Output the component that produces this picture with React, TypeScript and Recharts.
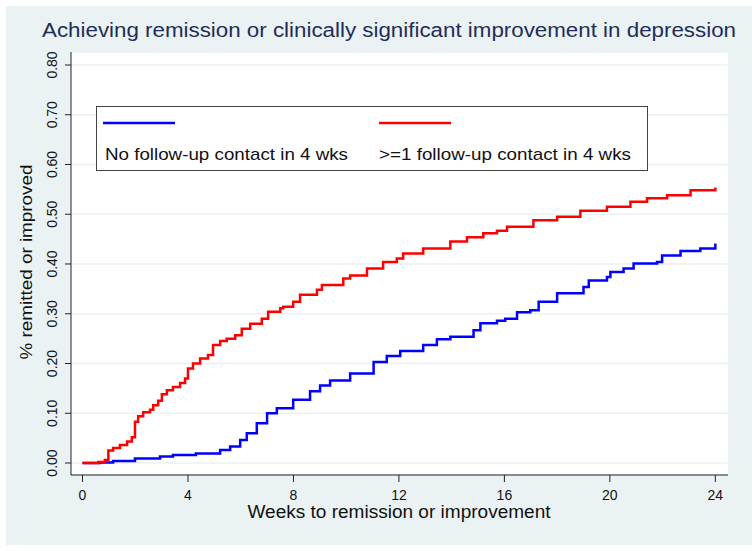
import { LineChart, Line, XAxis, YAxis, CartesianGrid } from "recharts";

// weeks / proportion for "No follow-up contact in 4 wks"
const noContactWeeks = [0, 0.66, 1.16, 1.99, 2.94, 3.43, 4.3, 5.22, 5.6, 5.98, 6.23, 6.61, 7.0, 7.37, 7.99, 8.63, 9.01, 9.39, 10.15, 11.04, 11.54, 12.05, 12.92, 13.44, 13.95, 14.83, 15.09, 15.72, 16.03, 16.48, 16.98, 17.3, 18.0, 19.0, 19.2, 19.89, 20.02, 20.52, 20.9, 21.79, 21.98, 22.68, 23.43, 24.0];
const noContactRate = [0, 0.001, 0.004, 0.009, 0.013, 0.016, 0.019, 0.026, 0.033, 0.046, 0.06, 0.08, 0.1, 0.11, 0.127, 0.144, 0.156, 0.166, 0.18, 0.203, 0.215, 0.225, 0.237, 0.249, 0.254, 0.267, 0.281, 0.286, 0.29, 0.303, 0.307, 0.324, 0.341, 0.354, 0.367, 0.374, 0.384, 0.391, 0.401, 0.404, 0.417, 0.426, 0.431, 0.441];

// weeks / proportion for ">=1 follow-up contact in 4 wks"
const contactWeeks = [0, 0.6, 0.85, 0.98, 1.16, 1.42, 1.69, 1.87, 1.99, 2.11, 2.3, 2.56, 2.68, 2.87, 3.01, 3.2, 3.43, 3.7, 3.89, 4.0, 4.19, 4.46, 4.76, 4.95, 5.22, 5.47, 5.79, 6.04, 6.36, 6.8, 7.04, 7.5, 7.61, 7.99, 8.25, 8.89, 9.08, 9.89, 10.15, 10.79, 11.4, 11.92, 12.16, 12.92, 13.95, 14.58, 15.2, 15.72, 16.1, 17.1, 18.0, 18.88, 19.89, 20.78, 21.41, 22.17, 23.06, 24.0];
const contactRate = [0, 0.002, 0.006, 0.025, 0.03, 0.036, 0.043, 0.052, 0.083, 0.094, 0.102, 0.107, 0.116, 0.125, 0.138, 0.146, 0.153, 0.161, 0.17, 0.19, 0.2, 0.21, 0.217, 0.237, 0.245, 0.25, 0.257, 0.27, 0.28, 0.29, 0.304, 0.311, 0.314, 0.324, 0.338, 0.348, 0.358, 0.371, 0.377, 0.391, 0.404, 0.411, 0.421, 0.431, 0.445, 0.454, 0.462, 0.467, 0.475, 0.488, 0.495, 0.507, 0.515, 0.525, 0.532, 0.538, 0.548, 0.554];

const xTicks = [0, 4, 8, 12, 16, 20, 24];
const yTicks = [0, 0.1, 0.2, 0.3, 0.4, 0.5, 0.6, 0.7, 0.8];

const noContact = noContactWeeks.map((w, i) => ({ week: w, rate: noContactRate[i] }));
const contact = contactWeeks.map((w, i) => ({ week: w, rate: contactRate[i] }));

const font = "'Liberation Sans', Arial, Helvetica, sans-serif";
const bg = "#EAF2F3";

function XTick(props: any) {
  const { x, payload } = props;
  return (
    <text x={x} y={500} textAnchor="middle" fontSize={14} fontFamily={font} fill="#111">
      {payload.value}
    </text>
  );
}

function YTick(props: any) {
  const { y, payload } = props;
  return (
    <text
      x={57}
      y={y}
      transform={`rotate(-90, 57, ${y})`}
      textAnchor="middle"
      fontSize={14}
      fontFamily={font}
      fill="#111"
    >
      {Number(payload.value).toFixed(2)}
    </text>
  );
}

export default function App() {
  return (
    <div style={{ position: "absolute", left: 0, top: 0, width: 752, height: 551, background: "#fff" }}>
      <div style={{ position: "absolute", left: 6, top: 6, width: 746, height: 539, background: bg }} />
      <div style={{ position: "absolute", left: 0, top: 0 }}>
        <LineChart width={752} height={551} margin={{ top: 52, right: 24, bottom: 46, left: 31 }}>
          <CartesianGrid vertical={false} stroke={bg} strokeWidth={1.5} fill="#ffffff" />
          <XAxis
            dataKey="week"
            type="number"
            domain={[-0.436, 24.48]}
            ticks={xTicks}
            allowDataOverflow
            height={30}
            tickSize={7}
            tick={<XTick />}
            stroke="#222"
          />
          <YAxis
            type="number"
            domain={[-0.0241, 0.8261]}
            ticks={yTicks}
            allowDataOverflow
            width={40}
            tickSize={6}
            tick={<YTick />}
            stroke="#222"
          />
          <Line
            data={noContact}
            dataKey="rate"
            type="stepAfter"
            stroke="#0000ff"
            strokeWidth={2.5}
            dot={false}
            isAnimationActive={false}
          />
          <Line
            data={contact}
            dataKey="rate"
            type="stepAfter"
            stroke="#ff0000"
            strokeWidth={2.5}
            dot={false}
            isAnimationActive={false}
          />
        </LineChart>
      </div>
      <svg width={752} height={551} style={{ position: "absolute", left: 0, top: 0, pointerEvents: "none" }}>
        <text x={42} y={36.5} fontSize={20} fontFamily={font} fill="#1f2d5a" textLength={694} lengthAdjust="spacingAndGlyphs">
          Achieving remission or clinically significant improvement in depression
        </text>
        <text
          x={32}
          y={262}
          transform="rotate(-90, 32, 262)"
          textAnchor="middle"
          fontSize={17}
          fontFamily={font}
          fill="#111"
          textLength={195}
          lengthAdjust="spacingAndGlyphs"
        >
          % remitted or improved
        </text>
        <text x={399} y={518} textAnchor="middle" fontSize={18} fontFamily={font} fill="#111" textLength={303} lengthAdjust="spacingAndGlyphs">
          Weeks to remission or improvement
        </text>
        <rect x={96.5} y={106.5} width={551} height={64} fill="#fff" stroke="#444" strokeWidth={1} />
        <line x1={103} y1={123} x2={175} y2={123} stroke="#0000ff" strokeWidth={2.5} />
        <line x1={379} y1={123} x2={451} y2={123} stroke="#ff0000" strokeWidth={2.5} />
        <text x={105} y={160} fontSize={17} fontFamily={font} fill="#111" textLength={243} lengthAdjust="spacingAndGlyphs">
          No follow-up contact in 4 wks
        </text>
        <text x={379} y={160} fontSize={17} fontFamily={font} fill="#111" textLength={252} lengthAdjust="spacingAndGlyphs">
          &gt;=1 follow-up contact in 4 wks
        </text>
      </svg>
    </div>
  );
}
